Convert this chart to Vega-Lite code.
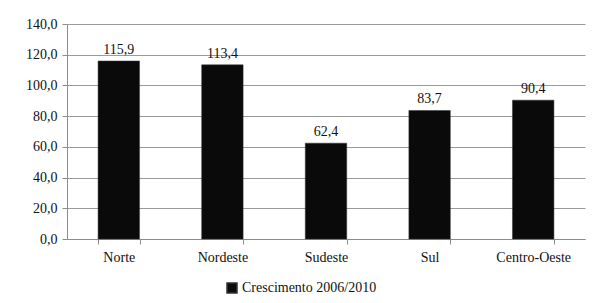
{
  "$schema": "https://vega.github.io/schema/vega-lite/v6.json",
  "width": 518,
  "height": 215,
  "autosize": {"type": "none"},
  "padding": {"left": 67, "top": 24, "right": 7, "bottom": 64},
  "background": "white",
  "data": {"values": [
    {"regiao": "Norte", "valor": 115.9, "serie": "Crescimento 2006/2010"},
    {"regiao": "Nordeste", "valor": 113.4, "serie": "Crescimento 2006/2010"},
    {"regiao": "Sudeste", "valor": 62.4, "serie": "Crescimento 2006/2010"},
    {"regiao": "Sul", "valor": 83.7, "serie": "Crescimento 2006/2010"},
    {"regiao": "Centro-Oeste", "valor": 90.4, "serie": "Crescimento 2006/2010"}
  ]},
  "encoding": {
    "x": {"field": "regiao", "type": "nominal", "sort": null,
      "scale": {"paddingInner": 0.6, "paddingOuter": 0.3},
      "axis": {"title": null, "labelAngle": 0, "tickBand": "extent", "tickSize": 5, "labelPadding": 6, "domainColor": "#8c8c8c", "tickColor": "#8c8c8c", "grid": false}},
    "y": {"field": "valor", "type": "quantitative",
      "scale": {"domain": [0, 140], "nice": false},
      "axis": {"title": null, "values": [0, 20, 40, 60, 80, 100, 120, 140], "format": ".1f", "tickSize": 5, "labelPadding": 5, "domainColor": "#8c8c8c", "tickColor": "#8c8c8c", "gridColor": "#9a9a9a", "grid": true}}
  },
  "layer": [
    {"mark": {"type": "bar", "stroke": "#333", "strokeWidth": 0.5},
     "encoding": {"color": {"field": "serie", "type": "nominal", "scale": {"range": ["#0a0a0a"]},
       "legend": {"title": null, "orient": "none", "legendX": 158, "legendY": 257, "symbolType": "square", "symbolSize": 100, "labelFontSize": 14, "labelFont": "Liberation Serif", "labelColor": "#111", "labelOffset": 3}}}},
    {"mark": {"type": "text", "dy": -11, "fontSize": 14, "font": "Liberation Serif", "color": "#111"},
     "encoding": {"text": {"field": "valor", "type": "quantitative", "format": ".1f"}}}
  ],
  "config": {
    "locale": {"number": {"decimal": ",", "thousands": ".", "grouping": [3], "currency": ["R$", ""]}},
    "view": {"stroke": null},
    "font": "Liberation Serif",
    "axis": {"labelFont": "Liberation Serif", "labelFontSize": 14, "labelColor": "#111"}
  }
}
